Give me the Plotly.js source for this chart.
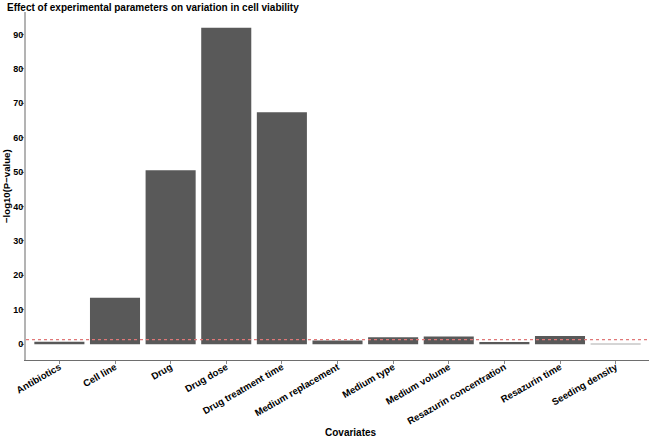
<!DOCTYPE html>
<html>
<head>
<meta charset="utf-8">
<script src="https://cdn.plot.ly/plotly-3.0.1.min.js"></script>
<style>html,body{margin:0;padding:0;background:#fff;}#chart{width:649px;height:438px;}</style>
</head>
<body>
<div id="chart"></div>
<script>
const covariates = ["Antibiotics","Cell line","Drug","Drug dose","Drug treatment time","Medium replacement","Medium type","Medium volume","Resazurin concentration","Resazurin time","Seeding density"];
const negLog10P = [0.7, 13.5, 50.5, 91.9, 67.4, 1.05, 2.0, 2.2, 0.6, 2.4, 0.1];
const threshold = 1.3;
const yTicks = [0,10,20,30,40,50,60,70,80,90];

const font = 'Liberation Sans, Arial, sans-serif';
const trace = {
  type: 'bar', x: covariates, y: negLog10P,
  marker: {color: '#595959', line: {width: 0}},
  width: 0.9, hoverinfo: 'x+y'
};
const layout = {
  width: 649, height: 438,
  margin: {l: 26, r: 0, t: 12, b: 78, pad: 0},
  paper_bgcolor: '#fff', plot_bgcolor: '#fff',
  showlegend: false,
  font: {family: font, color: '#000'},
  xaxis: {
    type: 'category', range: [-0.6, 10.6], showgrid: false, zeroline: false,
    showline: true, linecolor: '#6e6e6e', linewidth: 1,
    ticks: 'outside', ticklen: 3, tickcolor: '#888', tickwidth: 1,
    tickangle: -30, ticklabelstandoff: -6,
    tickfont: {family: font, size: 9.6, color: '#000', weight: 'bold'},
    automargin: false
  },
  yaxis: {
    range: [-4.6, 96.5], showgrid: false, zeroline: false,
    showline: true, linecolor: '#b3b3b3', linewidth: 2,
    tickvals: yTicks, ticktext: yTicks.map(String),
    ticks: 'outside', ticklen: 3, tickcolor: '#888', tickwidth: 1,
    ticklabelstandoff: -4,
    tickfont: {family: font, size: 9, color: '#000', weight: 'bold'},
    automargin: false
  },
  shapes: [{
    type: 'line', xref: 'paper', x0: 0, x1: 1, yref: 'y', y0: threshold, y1: threshold,
    line: {color: '#e07878', width: 1.3, dash: 'dot'}, layer: 'above'
  }],
  annotations: [
    {text: 'Effect of experimental parameters on variation in cell viability', xref: 'paper', yref: 'paper',
     x: 0, xshift: -21, y: 1, yshift: 5, xanchor: 'left', yanchor: 'middle', showarrow: false,
     font: {family: font, size: 10, color: '#000', weight: 'bold'}},
    {text: 'Covariates', xref: 'paper', yref: 'paper', x: 0.5, xshift: 13, y: 0, yshift: -72,
     xanchor: 'center', yanchor: 'middle', showarrow: false,
     font: {family: font, size: 10, color: '#000', weight: 'bold'}},
    {text: '\u2212log10(P\u2212value)', xref: 'paper', yref: 'paper', x: 0, xshift: -20, y: 0.5,
     xanchor: 'center', yanchor: 'middle', textangle: -90, showarrow: false,
     font: {family: font, size: 9.6, color: '#000', weight: 'bold'}}
  ]
};
Plotly.newPlot('chart', [trace], layout, {displayModeBar: false, staticPlot: true});
</script>
</body>
</html>
